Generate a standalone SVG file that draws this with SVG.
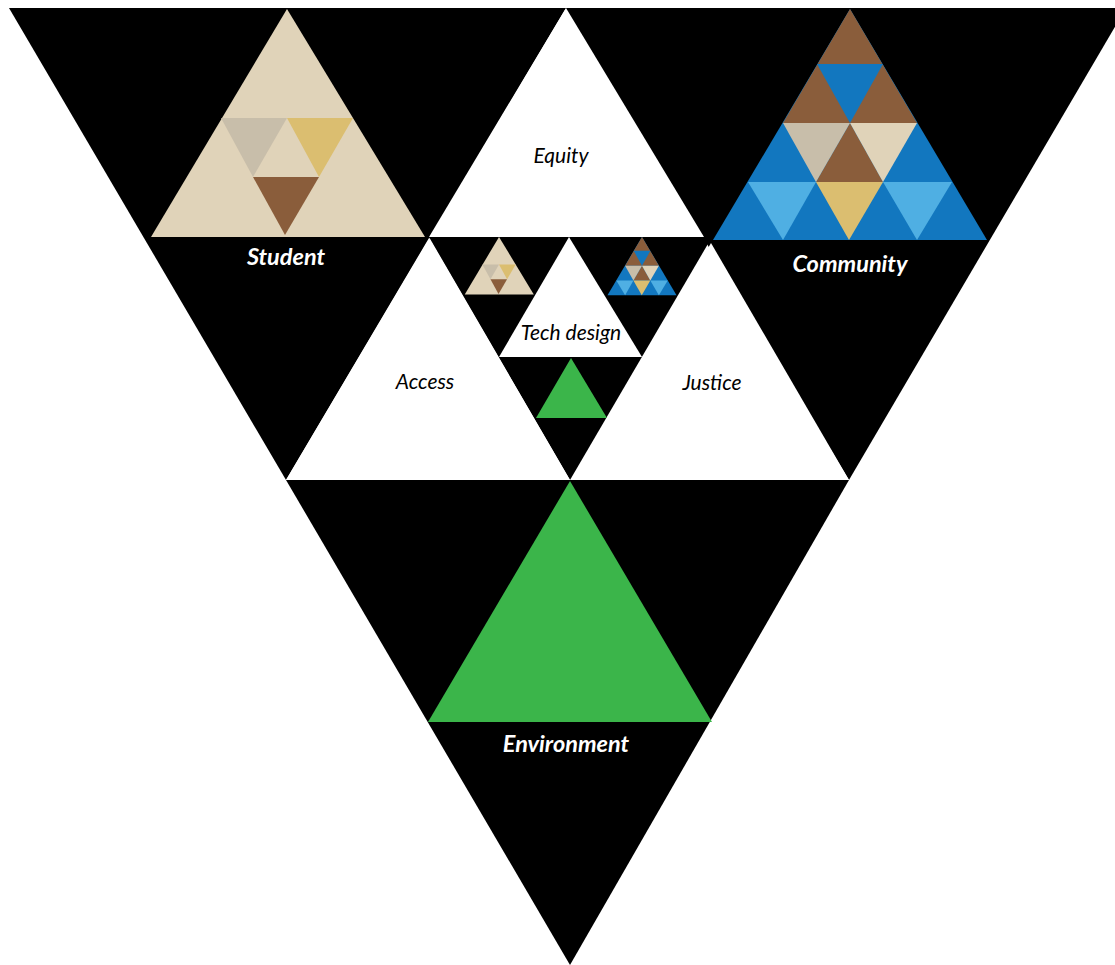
<svg xmlns="http://www.w3.org/2000/svg" xmlns:xlink="http://www.w3.org/1999/xlink" width="1115" height="965" viewBox="0 0 1115 965">
<style>
.blk{fill:#000}
.wht{fill:#fff}
.tan{fill:#E0D3B9}
.gry{fill:#C8BEAA}
.gld{fill:#DBBE70}
.brn{fill:#8A5D3B}
.blu{fill:#1277BF}
.lbl{fill:#4FAFE3}
.grn{fill:#3BB54A}
.wl{font-family:Lato,"Open Sans",sans-serif;font-style:italic;font-weight:bold;font-size:23.5px;fill:#fff;text-anchor:middle}
.bl{font-family:Lato,"Open Sans",sans-serif;font-style:italic;font-size:21px;fill:#000;text-anchor:middle}
</style>
<defs>
<g id="studentPattern">
<polygon class="tan" points="287,9 151,237 425,237"/>
<polygon class="gry" points="221,118 287,118 253,177"/>
<polygon class="gld" points="287,118 353,118 319,177"/>
<polygon class="brn" points="253,177 319,177 285,235"/>
</g>
<g id="communityPattern">
<polygon class="blu" points="850,9 713,240 987,240"/>
<polygon class="brn" points="850,9 783,123 917,123"/>
<polygon class="blu" points="817,64 883,64 850,123"/>
<polygon class="brn" points="850,123 816,182 883,182"/>
<polygon class="gry" points="783,123 850,123 816,182"/>
<polygon class="tan" points="850,123 917,123 883,182"/>
<polygon class="lbl" points="748,182 816,182 783,240"/>
<polygon class="gld" points="816,182 883,182 849,240"/>
<polygon class="lbl" points="883,182 952,182 917,240"/>
</g>
</defs>
<rect width="1115" height="965" fill="#fff"/>
<g id="connectors"></g>
<g id="student">
<polygon class="blk" points="9,8 566,8 286,480"/>
<use xlink:href="#studentPattern"/>
<text class="wl" x="286" y="265">Student</text>
</g>
<g id="community">
<polygon class="blk" points="565,8 1126,8 849,480"/>
<use xlink:href="#communityPattern"/>
<text class="wl" x="850" y="272">Community</text>
</g>
<g id="environment">
<polygon class="blk" points="286,480 849,480 570,965"/>
<polygon class="grn" points="570,481 428,722 712,722"/>
<text class="wl" x="566" y="752">Environment</text>
</g>
<g id="center">
<polygon class="blk" points="429,237 712,237 570,480"/>
</g>
<g id="equity">
<polygon class="wht" points="566,8 429,237 704,237"/>
<text class="bl" x="561" y="163">Equity</text>
</g>
<g id="access">
<polygon class="wht" points="429,238 286,480 570,480"/>
<text class="bl" x="425" y="389">Access</text>
</g>
<g id="justice">
<polygon class="wht" points="711,243 572,480 849,480"/>
<text class="bl" x="712" y="390">Justice</text>
</g>
<g id="tech-design">
<polygon class="wht" points="569,237 499,357 642,357"/>
<use xlink:href="#studentPattern" transform="translate(426.7,234.7) scale(0.252)"/>
<use xlink:href="#communityPattern" transform="translate(427.8,234.7) scale(0.252)"/>
<polygon class="grn" points="571,358 536,418 607,418"/>
<text class="bl" x="571" y="340">Tech design</text>
</g>
</svg>
